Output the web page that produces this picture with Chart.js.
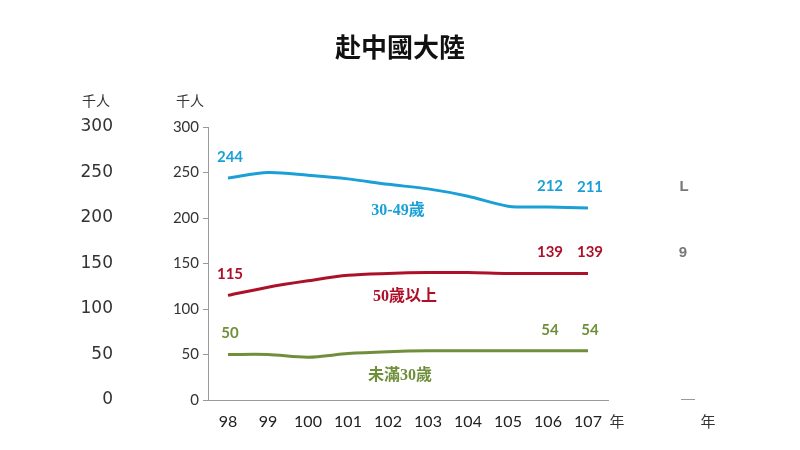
<!DOCTYPE html>
<html>
<head>
<meta charset="utf-8">
<script src="https://cdn.jsdelivr.net/npm/chart.js@4/dist/chart.umd.min.js"></script>
<style>
  html, body { margin: 0; padding: 0; background: #fff; }
  #wrap { width: 800px; height: 450px; }
</style>
</head>
<body>
<div id="wrap"><canvas id="c" width="800" height="450"></canvas></div>
<script>
// ── Data ────────────────────────────────────────────────────
const years = ['98', '99', '100', '101', '102', '103', '104', '105', '106', '107'];
const age30to49 = [244, 250, 247, 243, 237, 232, 224, 213, 212, 211];
const age50plus = [115, 124, 131, 137, 139, 140, 140, 139, 139, 139];
const under30   = [50, 50, 47, 51, 53, 54, 54, 54, 54, 54];
const yTicks = [300, 250, 200, 150, 100, 50, 0];
const seriesNames = ['30-49歲', '50歲以上', '未滿30歲'];
const labelIdx = [0, 8, 9]; // points that carry a value label

const COL = { blue: '#1aa0d6', red: '#ad1029', green: '#708f3b' };
const SERIF = "'Liberation Serif', 'Noto Sans CJK TC', serif";
const SANS = "Lato, 'Open Sans', sans-serif";

// ── Decorations: title, value labels, series names, ghost axis ──
const deco = {
  id: 'deco',
  afterDatasetsDraw(chart) {
    const { ctx, scales: { x, y } } = chart;
    ctx.save();

    // title
    ctx.fillStyle = '#111';
    ctx.font = "bold 26px 'Noto Sans CJK TC', sans-serif";
    ctx.textAlign = 'center';
    ctx.textBaseline = 'middle';
    ctx.fillText('赴中國大陸', 400, 47);

    // value labels above chosen points
    ctx.font = 'bold 15px ' + SANS;
    chart.data.datasets.forEach(ds => {
      ctx.fillStyle = ds.borderColor;
      labelIdx.forEach(i => {
        ctx.fillText(String(ds.data[i]), x.getPixelForValue(i) + 2, y.getPixelForValue(ds.data[i]) - 21);
      });
    });

    // series names
    ctx.font = 'bold 16px ' + SERIF;
    ctx.fillStyle = COL.blue;  ctx.fillText(seriesNames[0], 398, 211);
    ctx.fillStyle = COL.red;   ctx.fillText(seriesNames[1], 405, 297);
    ctx.fillStyle = COL.green; ctx.fillText(seriesNames[2], 400, 376);

    // unit labels
    ctx.fillStyle = '#333';
    ctx.font = "14px 'Noto Sans CJK TC', sans-serif";
    ctx.fillText('千人', 96, 101);
    ctx.fillText('千人', 190, 101);

    // ghost copy of the axis on the far left
    ctx.font = "17px 'DejaVu Sans', sans-serif";
    ctx.textAlign = 'right';
    yTicks.forEach(v => ctx.fillText(String(v), 113, y.getPixelForValue(v)));

    // year unit, plus the cut-off fragment on the right
    ctx.textAlign = 'center';
    ctx.font = "15px 'Noto Sans CJK TC', sans-serif";
    ctx.fillText('年', 617, 421);
    ctx.fillText('年', 708, 421);
    ctx.fillStyle = '#999';
    ctx.fillRect(681, 399, 14, 1);
    ctx.font = "bold 15px 'Liberation Sans', sans-serif";
    ctx.fillStyle = '#777';
    ctx.fillText('L', 684, 187);
    ctx.fillText('9', 683, 253);

    ctx.restore();
  }
};

new Chart(document.getElementById('c'), {
  type: 'line',
  data: {
    labels: years,
    datasets: [
      { label: seriesNames[0], data: age30to49, borderColor: COL.blue },
      { label: seriesNames[1], data: age50plus, borderColor: COL.red },
      { label: seriesNames[2], data: under30,   borderColor: COL.green }
    ].map(d => Object.assign(d, { borderWidth: 3, pointRadius: 0, tension: 0.3, fill: false }))
  },
  options: {
    responsive: false,
    animation: false,
    layout: { padding: { left: 0, right: 192, top: 127, bottom: 0 } },
    scales: {
      x: {
        offset: true,
        grid: { display: false },
        border: { display: true, color: '#9a9a9a' },
        ticks: { color: '#222', font: { size: 16, family: SANS }, padding: 4, maxRotation: 0 },
        afterFit: s => { s.height = 50; }
      },
      y: {
        min: 0, max: 300,
        ticks: { stepSize: 50, color: '#333', font: { size: 15, family: SANS }, padding: 4 },
        grid: { drawOnChartArea: false, drawTicks: true, tickLength: 5, color: '#9a9a9a' },
        border: { display: true, color: '#9a9a9a' },
        afterFit: s => { s.width = 208; }
      }
    },
    plugins: { legend: { display: false }, tooltip: { enabled: false } }
  },
  plugins: [deco]
});
</script>
</body>
</html>
